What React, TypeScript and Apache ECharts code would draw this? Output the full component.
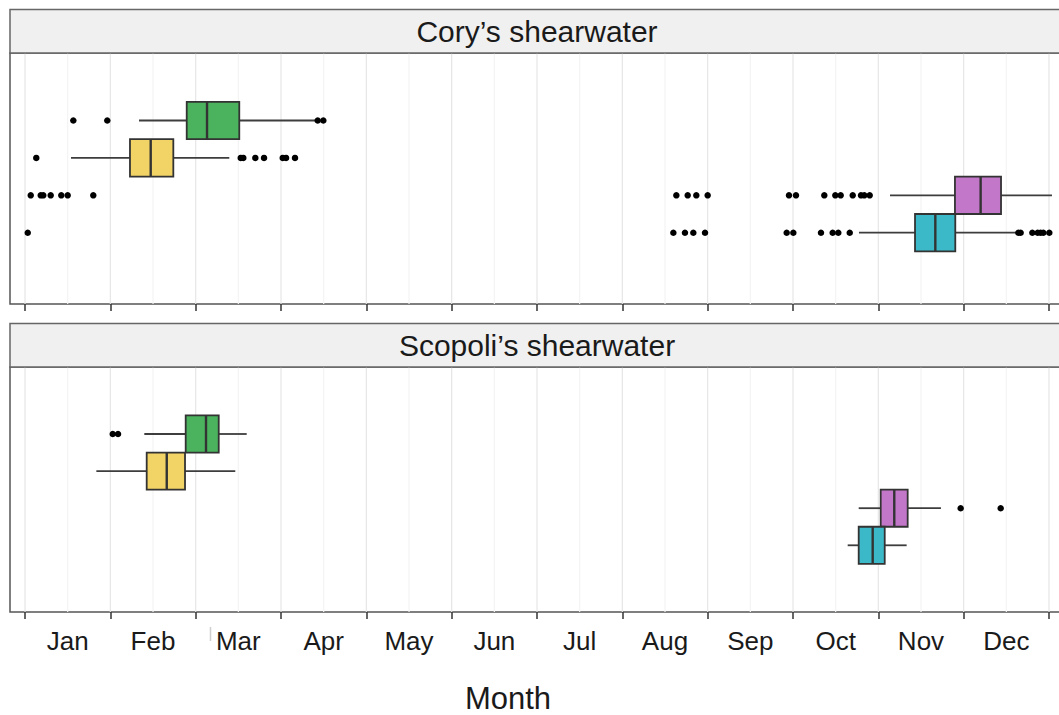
import React, { useEffect, useRef } from 'react';
import * as echarts from 'echarts';

const MONTHS = ['Jan', 'Feb', 'Mar', 'Apr', 'May', 'Jun', 'Jul', 'Aug', 'Sep', 'Oct', 'Nov', 'Dec'];
const MONTH_BOUNDS = [0, 1, 2, 3, 4, 5, 6, 7, 8, 9, 10, 11, 12];
const MONTH_MIDS = [0.5, 1.5, 2.5, 3.5, 4.5, 5.5, 6.5, 7.5, 8.5, 9.5, 10.5, 11.5];

const PANEL_TITLES = ['Cory\u2019s shearwater', 'Scopoli\u2019s shearwater'];
const ROW_COLORS = ['#4bb35e', '#f2d466', '#c377c9', '#3cb9c9'];

// [row, lower whisker, q1, median, q3, upper whisker] (months since 1 Jan)
const coryBoxes = [
  [0, 1.336, 1.895, 2.133, 2.511, 3.418],
  [1, 0.539, 1.23, 1.473, 1.738, 2.394],
  [2, 10.137, 10.898, 11.199, 11.438, 12.035],
  [3, 9.773, 10.43, 10.668, 10.902, 11.621],
];
const coryOutliers = [
  [0.566, 0.964, 3.43, 3.496],
  [0.132, 2.528, 2.558, 2.699, 2.801, 3.02, 3.059, 3.164],
  [0.067, 0.184, 0.214, 0.301, 0.425, 0.5, 0.8, 7.633, 7.766, 7.867, 8.0, 8.953, 9.035, 9.367, 9.496, 9.559, 9.7, 9.797, 9.836, 9.899],
  [0.032, 7.598, 7.734, 7.832, 7.969, 8.926, 9.004, 9.328, 9.465, 9.531, 9.665, 11.641, 11.668, 11.805, 11.867, 11.902, 11.934, 12.004],
];

const scopoliBoxes = [
  [0, 1.398, 1.883, 2.121, 2.27, 2.598],
  [1, 0.836, 1.426, 1.661, 1.875, 2.464],
  [2, 9.77, 10.028, 10.187, 10.344, 10.734],
  [3, 9.641, 9.77, 9.934, 10.075, 10.332],
];
const scopoliOutliers = [
  [1.028, 1.09],
  [],
  [10.965, 11.434],
  [],
];

const X_MIN = -0.176;
const X_MAX = 12.176;
const FONT = '"Liberation Sans", Arial, Helvetica, sans-serif';

function toPoints(outliers: number[][]) {
  const pts: number[][] = [];
  outliers.forEach((row, r) => row.forEach((v) => pts.push([v, r])));
  return pts;
}

function boxRender(params: any, api: any) {
  const row = api.value(0);
  const y = api.coord([0, row])[1];
  const xl = api.coord([api.value(1), row])[0];
  const x1 = api.coord([api.value(2), row])[0];
  const xm = api.coord([api.value(3), row])[0];
  const x3 = api.coord([api.value(4), row])[0];
  const xh = api.coord([api.value(5), row])[0];
  const h = Math.abs(api.size([0, 1])[1]);
  const stroke = '#333';
  return {
    type: 'group',
    children: [
      { type: 'line', shape: { x1: xl, y1: y, x2: x1, y2: y }, style: { stroke: '#3d3d3d', lineWidth: 1.8 } },
      { type: 'line', shape: { x1: x3, y1: y, x2: xh, y2: y }, style: { stroke: '#3d3d3d', lineWidth: 1.8 } },
      {
        type: 'rect',
        shape: { x: x1, y: y - h / 2, width: x3 - x1, height: h },
        style: { fill: ROW_COLORS[row], stroke, lineWidth: 1.8 },
      },
      { type: 'line', shape: { x1: xm, y1: y - h / 2, x2: xm, y2: y + h / 2 }, style: { stroke, lineWidth: 2.4 } },
    ],
  };
}

function gridRender(params: any, api: any) {
  const v = api.value(0);
  const major = api.value(1) === 1;
  const x = api.coord([v, 0])[0];
  const cs = params.coordSys;
  return {
    type: 'line',
    shape: { x1: x, y1: cs.y, x2: x, y2: cs.y + cs.height },
    style: { stroke: major ? '#e6e6e6' : '#f4f4f4', lineWidth: 1.2 },
  };
}

export default function App() {
  const ref = useRef<HTMLDivElement>(null);
  useEffect(() => {
    const chart = echarts.init(ref.current!, null, { renderer: 'svg' });
    const grids = [
      { top: 53, height: 251 },
      { top: 367, height: 245 },
    ];
    const yRanges = [
      [-1.805, 4.906],
      [-1.806, 4.798],
    ];
    const boxes = [coryBoxes, scopoliBoxes];
    const outs = [coryOutliers, scopoliOutliers];
    const gridLineData = [
      ...MONTH_BOUNDS.map((v) => [v, 1]),
      ...MONTH_MIDS.map((v) => [v, 0]),
    ];

    const option: any = {
      animation: false,
      textStyle: { fontFamily: FONT },
      grid: grids.map((g) => ({
        left: 10,
        width: 1054,
        top: g.top,
        height: g.height,
        show: true,
        backgroundColor: '#fff',
        borderColor: '#555',
        borderWidth: 1.5,
        z: 0,
      })),
      xAxis: grids.map((g, i) => ({
        type: 'value',
        gridIndex: i,
        min: X_MIN,
        max: X_MAX,
        position: 'bottom',
        axisLine: { show: false, onZero: false },
        splitLine: { show: false },
        axisTick: {
          show: true,
          customValues: MONTH_BOUNDS,
          length: 7,
          lineStyle: { color: '#333', width: 1.5 },
        },
        axisLabel: {
          show: i === 1,
          customValues: MONTH_MIDS,
          formatter: (v: number) => MONTHS[Math.floor(v)],
          fontSize: 26,
          color: '#1a1a1a',
          margin: 16,
          fontFamily: FONT,
        },
      })),
      yAxis: grids.map((g, i) => ({
        type: 'value',
        gridIndex: i,
        inverse: true,
        min: yRanges[i][0],
        max: yRanges[i][1],
        show: false,
        axisLine: { onZero: false },
      })),
      series: [
        ...grids.map((g, i) => ({
          type: 'custom',
          xAxisIndex: i,
          yAxisIndex: i,
          silent: true,
          z: 1,
          renderItem: gridRender,
          data: gridLineData,
        })),
        ...grids.map((g, i) => ({
          type: 'custom',
          xAxisIndex: i,
          yAxisIndex: i,
          silent: true,
          z: 2,
          renderItem: boxRender,
          encode: { x: [1, 2, 3, 4, 5], y: 0 },
          data: boxes[i],
        })),
        ...grids.map((g, i) => ({
          type: 'scatter',
          xAxisIndex: i,
          yAxisIndex: i,
          silent: true,
          z: 3,
          symbol: 'circle',
          symbolSize: 6.5,
          itemStyle: { color: '#000', opacity: 1 },
          data: toPoints(outs[i]),
        })),
      ],
      graphic: [
        ...grids.map((g, i) => ({
          type: 'rect',
          z: 10,
          shape: { x: 10, y: g.top - 43.5, width: 1070, height: 43.5 },
          style: { fill: '#f0f0f0', stroke: '#666', lineWidth: 1.5 },
        })),
        ...grids.map((g, i) => ({
          type: 'text',
          z: 11,
          x: 537,
          y: g.top - 21.5,
          style: {
            text: PANEL_TITLES[i],
            fontSize: 30,
            fontFamily: FONT,
            fill: '#1a1a1a',
            align: 'center',
            verticalAlign: 'middle',
          },
        })),
        {
          type: 'text',
          z: 11,
          x: 508,
          y: 698,
          style: {
            text: 'Month',
            fontSize: 31,
            fontFamily: FONT,
            fill: '#1a1a1a',
            align: 'center',
            verticalAlign: 'middle',
          },
        },
        {
          type: 'line',
          z: 11,
          shape: { x1: 210.5, y1: 627, x2: 210.5, y2: 641 },
          style: { stroke: '#cfcfcf', lineWidth: 1.5 },
        },
      ],
    };
    chart.setOption(option);
    return () => chart.dispose();
  }, []);
  return (
    <div style={{ position: 'fixed', left: 0, top: 0, width: 1059, height: 715, overflow: 'hidden', background: '#fff' }}>
      <div ref={ref} style={{ width: 1070, height: 715 }} />
    </div>
  );
}
